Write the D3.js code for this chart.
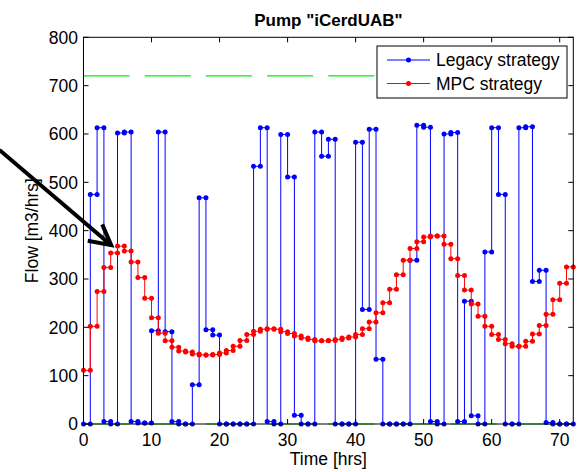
<!DOCTYPE html>
<html>
<head>
<meta charset="utf-8">
<script src="https://cdn.jsdelivr.net/npm/d3@7"></script>
<style>
  html, body { margin: 0; padding: 0; background: #fff; }
  svg { display: block; }
  text { font-family: Arial, "Liberation Sans", sans-serif; fill: #000; }
</style>
</head>
<body>
<svg id="chart" width="586" height="472"></svg>
<script>
// ---------- data (hourly values, each held over [k, k+1]) ----------
const legacyFlow = [0,475,613,5,0,602,604,5,2,2,193,604,191,5,0,0,81,468,195,184,
  0,0,0,0,0,533,613,5,0,599,511,18,0,0,604,554,589,0,0,0,
  583,237,610,134,0,0,0,0,339,618,614,5,0,600,603,5,254,17,0,356,
  613,475,0,0,613,615,295,318,3,0,0,0];
const mpcFlow = [111,202,274,324,354,368,358,335,303,260,220,188,172,159,151,149,145,143,143,144,
  147,152,161,173,185,192,196,197,196,191,187,182,178,175,172,172,173,175,178,180,
  185,197,211,230,251,279,309,339,363,377,387,389,389,372,342,307,277,248,223,202,
  185,175,166,161,161,171,186,204,227,257,291,325];
const limitLevels = [0, 720];
const xTicks = [0,10,20,30,40,50,60,70];
const yTicks = [0,100,200,300,400,500,600,700,800];
const seriesNames = ["Legacy strategy", "MPC strategy"];
const seriesColors = ["#0000ff", "#ff0000"];
const titleText = 'Pump "iCerdUAB"';
const xLabel = "Time [hrs]";
const yLabel = "Flow [m3/hrs]";
// annotation arrow, in data units [hours, flow]
const arrowLine = [[-12.35, 567], [4.07, 370]];
const arrowHead = [[0.63, 379], [4.07, 370], [2.75, 413]];

// ---------- layout ----------
const svg = d3.select("#chart");
const L = 83.5, R = 573.3, T = 37.3, B = 424;
const x = d3.scaleLinear().domain([0, 72]).range([L, R]);
const y = d3.scaleLinear().domain([0, 800]).range([B, T]);
const FS = 17.5;

// stairs vertices
function stairs(vals) {
  const pts = [];
  vals.forEach((v, k) => { pts.push([k, v]); pts.push([k + 1, v]); });
  return pts;
}
const line = d3.line().x(d => x(d[0])).y(d => y(d[1]));

// white plot background
svg.append("rect").attr("x", L).attr("y", T).attr("width", R - L).attr("height", B - T).attr("fill", "#fff");

const gPlot = svg.append("g");

// legacy line
const legPts = stairs(legacyFlow);
gPlot.append("path").attr("d", line(legPts)).attr("fill", "none")
  .attr("stroke", seriesColors[0]).attr("stroke-width", 1);

// green limit lines (dashed)
limitLevels.forEach(lv => {
  gPlot.append("line").attr("x1", x(0)).attr("x2", x(72)).attr("y1", y(lv)).attr("y2", y(lv))
    .attr("stroke", "#00ee00").attr("stroke-width", 1.2).attr("stroke-dasharray", "46,15.2");
});

// legacy markers
gPlot.selectAll("circle.leg").data(legPts).enter().append("circle")
  .attr("cx", d => x(d[0])).attr("cy", d => y(d[1])).attr("r", 2.5).attr("fill", seriesColors[0]);

// mpc line & markers
const mpcPts = stairs(mpcFlow);
gPlot.append("path").attr("d", line(mpcPts)).attr("fill", "none")
  .attr("stroke", seriesColors[1]).attr("stroke-width", 1);
gPlot.selectAll("circle.mpc").data(mpcPts).enter().append("circle")
  .attr("cx", d => x(d[0])).attr("cy", d => y(d[1])).attr("r", 2.5).attr("fill", seriesColors[1]);

// axes box
svg.append("rect").attr("x", L).attr("y", T).attr("width", R - L).attr("height", B - T)
  .attr("fill", "none").attr("stroke", "#000").attr("stroke-width", 1);

// ticks (inward, all sides)
const tk = 5;
xTicks.forEach(t => {
  svg.append("line").attr("x1", x(t)).attr("x2", x(t)).attr("y1", B).attr("y2", B - tk).attr("stroke", "#000");
  svg.append("line").attr("x1", x(t)).attr("x2", x(t)).attr("y1", T).attr("y2", T + tk).attr("stroke", "#000");
  svg.append("text").attr("x", x(t)).attr("y", 445.5).attr("text-anchor", "middle")
    .style("font-size", FS + "px").text(t);
});
yTicks.forEach(t => {
  svg.append("line").attr("x1", L).attr("x2", L + tk).attr("y1", y(t)).attr("y2", y(t)).attr("stroke", "#000");
  svg.append("line").attr("x1", R).attr("x2", R - tk).attr("y1", y(t)).attr("y2", y(t)).attr("stroke", "#000");
  svg.append("text").attr("x", 78).attr("y", y(t) + 6.3).attr("text-anchor", "end")
    .style("font-size", FS + "px").text(t);
});

// title & labels
svg.append("text").attr("x", (L + R) / 2).attr("y", 26).attr("text-anchor", "middle")
  .style("font-size", "17px").style("font-weight", "bold").text(titleText);
svg.append("text").attr("x", (L + R) / 2).attr("y", 465).attr("text-anchor", "middle")
  .style("font-size", FS + "px").text(xLabel);
svg.append("text").attr("transform", `translate(37.8,${(T + B) / 2}) rotate(-90)`)
  .attr("text-anchor", "middle").style("font-size", FS + "px").text(yLabel);

// legend
const lg = svg.append("g");
lg.append("rect").attr("x", 377).attr("y", 46).attr("width", 190).attr("height", 52)
  .attr("fill", "#fff").attr("stroke", "#000").attr("stroke-width", 1);
seriesNames.forEach((nm, i) => {
  const yy = 60 + i * 23.5;
  lg.append("line").attr("x1", 387).attr("x2", 430).attr("y1", yy).attr("y2", yy)
    .attr("stroke", seriesColors[i]).attr("stroke-width", 1);
  lg.append("circle").attr("cx", 408.5).attr("cy", yy).attr("r", 2.5).attr("fill", seriesColors[i]);
  lg.append("text").attr("x", 436).attr("y", yy + 6.4).style("font-size", FS + "px").text(nm);
});

// annotation arrow
svg.append("path").attr("d", line(arrowLine)).attr("fill", "none")
  .attr("stroke", "#000").attr("stroke-width", 4);
svg.append("path").attr("d", line(arrowHead)).attr("fill", "none")
  .attr("stroke", "#000").attr("stroke-width", 4).attr("stroke-linejoin", "miter");
</script>
</body>
</html>
